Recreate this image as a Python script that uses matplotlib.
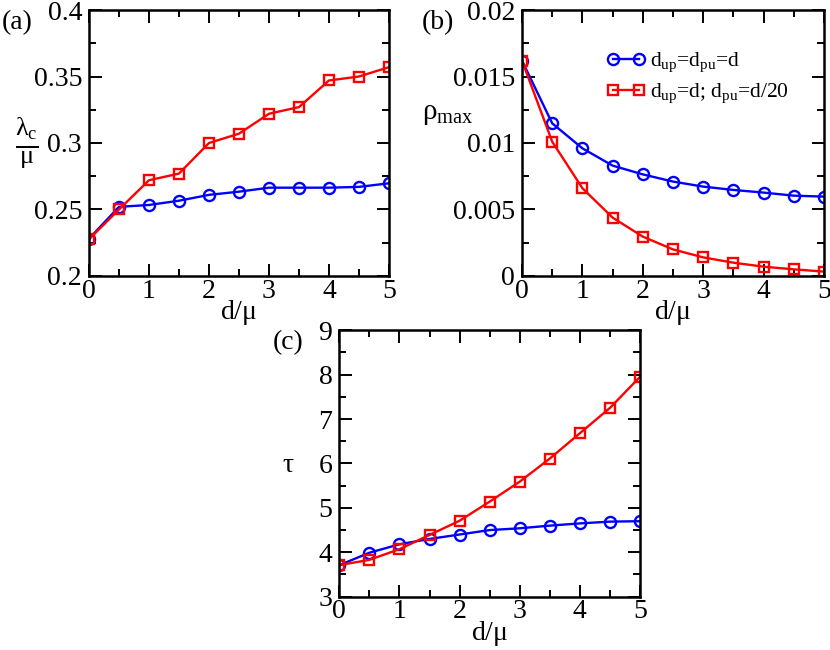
import numpy as np
import matplotlib
matplotlib.use("Agg")
import matplotlib.pyplot as plt
from matplotlib.ticker import MultipleLocator, FormatStrFormatter

plt.rcParams['font.family'] = ['Liberation Serif', 'DejaVu Serif']
plt.rcParams['mathtext.fontset'] = 'custom'
plt.rcParams['mathtext.rm'] = 'Liberation Serif'
plt.rcParams['mathtext.it'] = 'Liberation Serif'
plt.rcParams['mathtext.bf'] = 'Liberation Serif:bold'

# данные
d = [0, 0.5, 1, 1.5, 2, 2.5, 3, 3.5, 4, 4.5, 5]

lam_same = [0.228, 0.252, 0.2534, 0.2566, 0.261, 0.2634, 0.2664, 0.2664, 0.2664, 0.267, 0.2697]
lam_diff = [0.2276, 0.250, 0.272, 0.277, 0.300, 0.307, 0.322, 0.327, 0.347, 0.350, 0.357]

rho_same = [0.0162, 0.01148, 0.0096, 0.0083, 0.00764, 0.0071, 0.00672, 0.00647, 0.00627, 0.00604, 0.00597]
rho_diff = [0.0162, 0.0101, 0.0066, 0.00439, 0.00296, 0.0020, 0.0014, 0.0010, 0.0007, 0.0005, 0.00033]

tau_same = [3.71, 3.99, 4.18, 4.30, 4.40, 4.50, 4.54, 4.60, 4.65, 4.69, 4.70]
tau_diff = [3.71, 3.83, 4.07, 4.39, 4.71, 5.14, 5.59, 6.11, 6.68, 7.25, 7.95]

lab_same = r'd$_{\mathrm{up}}$=d$_{\mathrm{pu}}$=d'
lab_diff = r'd$_{\mathrm{up}}$=d; d$_{\mathrm{pu}}$=d/20'

fig = plt.figure(figsize=(8.3, 6.5), dpi=100)
ax_a = fig.add_axes([0.1072, 0.5754, 0.3614, 0.4092])
ax_b = fig.add_axes([0.6289, 0.5754, 0.3639, 0.4092])
ax_c = fig.add_axes([0.4088, 0.0820, 0.3623, 0.4100])


def draw(ax, y1, y2, ylim, ymaj, ymin, fmt):
    ax.plot(d, y1, color='blue', lw=1.7, marker='o', ms=8, mfc='none',
            mec='blue', mew=1.7, label=lab_same)
    ax.plot(d, y2, color='red', lw=1.7, marker='s', ms=7, mfc='none',
            mec='red', mew=1.7, label=lab_diff)
    ax.set_xlim(0, 5)
    ax.set_ylim(*ylim)
    ax.xaxis.set_major_locator(MultipleLocator(1))
    ax.xaxis.set_minor_locator(MultipleLocator(0.5))
    ax.yaxis.set_major_locator(MultipleLocator(ymaj))
    ax.yaxis.set_minor_locator(MultipleLocator(ymin))
    ax.yaxis.set_major_formatter(FormatStrFormatter(fmt))
    ax.tick_params(which='both', direction='in', top=True, right=True,
                   width=1.4, labelsize=20)
    ax.tick_params(which='major', length=9)
    ax.tick_params(which='minor', length=5)
    ax.tick_params(axis='x', pad=2)
    ax.tick_params(axis='y', pad=5)
    for s in ax.spines.values():
        s.set_linewidth(1.8)
    ax.set_xlabel(r'd/$\mathrm{\mu}$', fontsize=20, labelpad=-4)


draw(ax_a, lam_same, lam_diff, (0.2, 0.4), 0.05, 0.025, '%g')
draw(ax_b, rho_same, rho_diff, (0, 0.02), 0.005, 0.0025, '%g')
draw(ax_c, tau_same, tau_diff, (3, 9), 1, 0.5, '%g')

# подписи осей
fig.text(0.032, 1 - 143 / 650, r'$\frac{\lambda_\mathrm{c}}{\mu}$', fontsize=27,
         ha='center', va='center')
fig.text(0.539, 1 - 114 / 650, r'$\rho_{\mathrm{max}}$', fontsize=21,
         ha='center', va='center')
fig.text(0.347, 1 - 465 / 650, r'$\tau$', fontsize=20, ha='center', va='center')

# буквы панелей
fig.text(0.002, 0.985, '(a)', fontsize=20, ha='left', va='top')
fig.text(0.508, 0.985, '(b)', fontsize=20, ha='left', va='top')
fig.text(0.329, 1 - 330 / 650, '(c)', fontsize=20, ha='left', va='top')

ax_b.legend(loc='upper left', bbox_to_anchor=(0.215, 0.92), frameon=False,
            fontsize=15.5, numpoints=2, handlelength=1.8, handletextpad=0.25,
            labelspacing=0.35)

fig.savefig('out.png', dpi=100)
